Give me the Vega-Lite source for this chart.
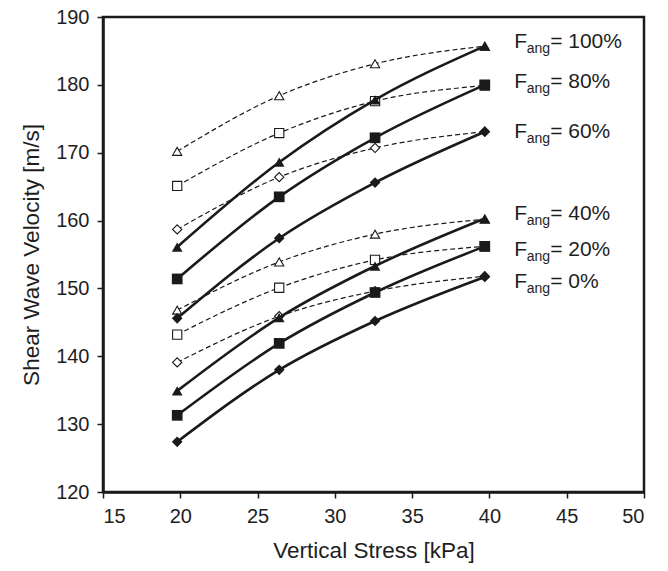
{
  "$schema": "https://vega.github.io/schema/vega-lite/v6.json",
  "width": 541,
  "height": 475,
  "autosize": {"type": "none"},
  "padding": {"left": 103, "top": 17, "right": 24, "bottom": 79},
  "background": "white",
  "config": {
    "font": "Liberation Sans",
    "view": {"stroke": "#1a1a1a", "strokeWidth": 2.5},
    "axis": {
      "grid": false,
      "domainColor": "#1a1a1a",
      "domainWidth": 2.5,
      "tickColor": "#1a1a1a",
      "tickWidth": 1.5,
      "tickSize": 6,
      "labelFont": "Liberation Sans",
      "labelFontSize": 20,
      "labelColor": "#1e1e1e",
      "titleFont": "Liberation Sans",
      "titleFontSize": 22.5,
      "titleFontWeight": "normal",
      "titleColor": "#1e1e1e"
    }
  },
  "datasets": {
    "series": [
      {"series": "s0", "style": "solid", "marker": "diamond", "x": 19.8, "y": 127.4},
      {"series": "s0", "style": "solid", "marker": "diamond", "x": 26.4, "y": 138.0},
      {"series": "s0", "style": "solid", "marker": "diamond", "x": 32.6, "y": 145.2},
      {"series": "s0", "style": "solid", "marker": "diamond", "x": 39.7, "y": 151.7},
      {"series": "s20", "style": "solid", "marker": "square", "x": 19.8, "y": 131.3},
      {"series": "s20", "style": "solid", "marker": "square", "x": 26.4, "y": 141.9},
      {"series": "s20", "style": "solid", "marker": "square", "x": 32.6, "y": 149.4},
      {"series": "s20", "style": "solid", "marker": "square", "x": 39.7, "y": 156.2},
      {"series": "s40", "style": "solid", "marker": "triangle-up", "x": 19.8, "y": 134.9},
      {"series": "s40", "style": "solid", "marker": "triangle-up", "x": 26.4, "y": 145.7},
      {"series": "s40", "style": "solid", "marker": "triangle-up", "x": 32.6, "y": 153.3},
      {"series": "s40", "style": "solid", "marker": "triangle-up", "x": 39.7, "y": 160.3},
      {"series": "s60", "style": "solid", "marker": "diamond", "x": 19.8, "y": 145.6},
      {"series": "s60", "style": "solid", "marker": "diamond", "x": 26.4, "y": 157.4},
      {"series": "s60", "style": "solid", "marker": "diamond", "x": 32.6, "y": 165.6},
      {"series": "s60", "style": "solid", "marker": "diamond", "x": 39.7, "y": 173.1},
      {"series": "s80", "style": "solid", "marker": "square", "x": 19.8, "y": 151.4},
      {"series": "s80", "style": "solid", "marker": "square", "x": 26.4, "y": 163.5},
      {"series": "s80", "style": "solid", "marker": "square", "x": 32.6, "y": 172.2},
      {"series": "s80", "style": "solid", "marker": "square", "x": 39.7, "y": 180.0},
      {"series": "s100", "style": "solid", "marker": "triangle-up", "x": 19.8, "y": 156.1},
      {"series": "s100", "style": "solid", "marker": "triangle-up", "x": 26.4, "y": 168.6},
      {"series": "s100", "style": "solid", "marker": "triangle-up", "x": 32.6, "y": 177.8},
      {"series": "s100", "style": "solid", "marker": "triangle-up", "x": 39.7, "y": 185.7},
      {"series": "d0", "style": "dashed", "marker": "diamond", "x": 19.8, "y": 139.1},
      {"series": "d0", "style": "dashed", "marker": "diamond", "x": 26.4, "y": 145.9},
      {"series": "d0", "style": "dashed", "marker": "diamond", "x": 32.6, "y": 149.6},
      {"series": "d0", "style": "dashed", "marker": "diamond", "x": 39.7, "y": 151.8},
      {"series": "d20", "style": "dashed", "marker": "square", "x": 19.8, "y": 143.2},
      {"series": "d20", "style": "dashed", "marker": "square", "x": 26.4, "y": 150.1},
      {"series": "d20", "style": "dashed", "marker": "square", "x": 32.6, "y": 154.2},
      {"series": "d20", "style": "dashed", "marker": "square", "x": 39.7, "y": 156.2},
      {"series": "d40", "style": "dashed", "marker": "triangle-up", "x": 19.8, "y": 146.8},
      {"series": "d40", "style": "dashed", "marker": "triangle-up", "x": 26.4, "y": 153.9},
      {"series": "d40", "style": "dashed", "marker": "triangle-up", "x": 32.6, "y": 158.0},
      {"series": "d40", "style": "dashed", "marker": "triangle-up", "x": 39.7, "y": 160.2},
      {"series": "d60", "style": "dashed", "marker": "diamond", "x": 19.8, "y": 158.7},
      {"series": "d60", "style": "dashed", "marker": "diamond", "x": 26.4, "y": 166.4},
      {"series": "d60", "style": "dashed", "marker": "diamond", "x": 32.6, "y": 170.7},
      {"series": "d60", "style": "dashed", "marker": "diamond", "x": 39.7, "y": 173.1},
      {"series": "d80", "style": "dashed", "marker": "square", "x": 19.8, "y": 165.1},
      {"series": "d80", "style": "dashed", "marker": "square", "x": 26.4, "y": 172.9},
      {"series": "d80", "style": "dashed", "marker": "square", "x": 32.6, "y": 177.6},
      {"series": "d80", "style": "dashed", "marker": "square", "x": 39.7, "y": 179.9},
      {"series": "d100", "style": "dashed", "marker": "triangle-up", "x": 19.8, "y": 170.2},
      {"series": "d100", "style": "dashed", "marker": "triangle-up", "x": 26.4, "y": 178.4},
      {"series": "d100", "style": "dashed", "marker": "triangle-up", "x": 32.6, "y": 183.1},
      {"series": "d100", "style": "dashed", "marker": "triangle-up", "x": 39.7, "y": 185.7}
    ],
    "labels": [
      {"x": 41.6, "y": 186.3, "pct": "= 100%"},
      {"x": 41.6, "y": 180.35, "pct": "= 80%"},
      {"x": 41.6, "y": 173.1, "pct": "= 60%"},
      {"x": 41.6, "y": 161.0, "pct": "= 40%"},
      {"x": 41.6, "y": 155.7, "pct": "= 20%"},
      {"x": 41.6, "y": 151.0, "pct": "= 0%"}
    ]
  },
  "encoding": {
    "x": {
      "field": "x", "type": "quantitative",
      "scale": {"domain": [15, 50], "nice": false, "zero": false},
      "axis": {"values": [15, 20, 25, 30, 35, 40, 45, 50], "title": "Vertical Stress [kPa]", "labelPadding": 8, "titlePadding": 13}
    },
    "y": {
      "field": "y", "type": "quantitative",
      "scale": {"domain": [120, 190], "nice": false, "zero": false},
      "axis": {"values": [120, 130, 140, 150, 160, 170, 180, 190], "title": "Shear Wave Velocity [m/s]", "labelPadding": 8, "titlePadding": 12}
    }
  },
  "layer": [
    {
      "data": {"name": "series"},
      "transform": [{"filter": "datum.style === 'dashed'"}],
      "mark": {"type": "line", "interpolate": "monotone", "color": "#1a1a1a", "strokeWidth": 1.2, "strokeDash": [5, 3]},
      "encoding": {"detail": {"field": "series"}}
    },
    {
      "data": {"name": "series"},
      "transform": [{"filter": "datum.style === 'dashed'"}],
      "mark": {"type": "point", "filled": false, "fill": "white", "fillOpacity": 1, "stroke": "#1a1a1a", "strokeWidth": 1.1, "opacity": 1, "size": 85},
      "encoding": {
        "shape": {"field": "marker", "type": "nominal", "scale": {"domain": ["diamond", "square", "triangle-up"], "range": ["diamond", "square", "triangle-up"]}, "legend": null}
      }
    },
    {
      "data": {"name": "series"},
      "transform": [{"filter": "datum.style === 'solid'"}],
      "mark": {"type": "line", "interpolate": "monotone", "color": "#1a1a1a", "strokeWidth": 2.6},
      "encoding": {"detail": {"field": "series"}}
    },
    {
      "data": {"name": "series"},
      "transform": [{"filter": "datum.style === 'solid'"}],
      "mark": {"type": "point", "filled": true, "color": "#1a1a1a", "opacity": 1, "size": 115},
      "encoding": {
        "shape": {"field": "marker", "type": "nominal", "scale": {"domain": ["diamond", "square", "triangle-up"], "range": ["diamond", "square", "triangle-up"]}, "legend": null}
      }
    },
    {
      "data": {"name": "labels"},
      "mark": {"type": "text", "text": "F", "align": "left", "baseline": "middle", "fontSize": 21, "color": "#1e1e1e"}
    },
    {
      "data": {"name": "labels"},
      "mark": {"type": "text", "text": "ang", "align": "left", "baseline": "middle", "fontSize": 14, "dx": 12.5, "dy": 7, "color": "#1e1e1e"}
    },
    {
      "data": {"name": "labels"},
      "mark": {"type": "text", "align": "left", "baseline": "middle", "fontSize": 21, "dx": 36, "color": "#1e1e1e"},
      "encoding": {"text": {"field": "pct"}}
    }
  ]
}
